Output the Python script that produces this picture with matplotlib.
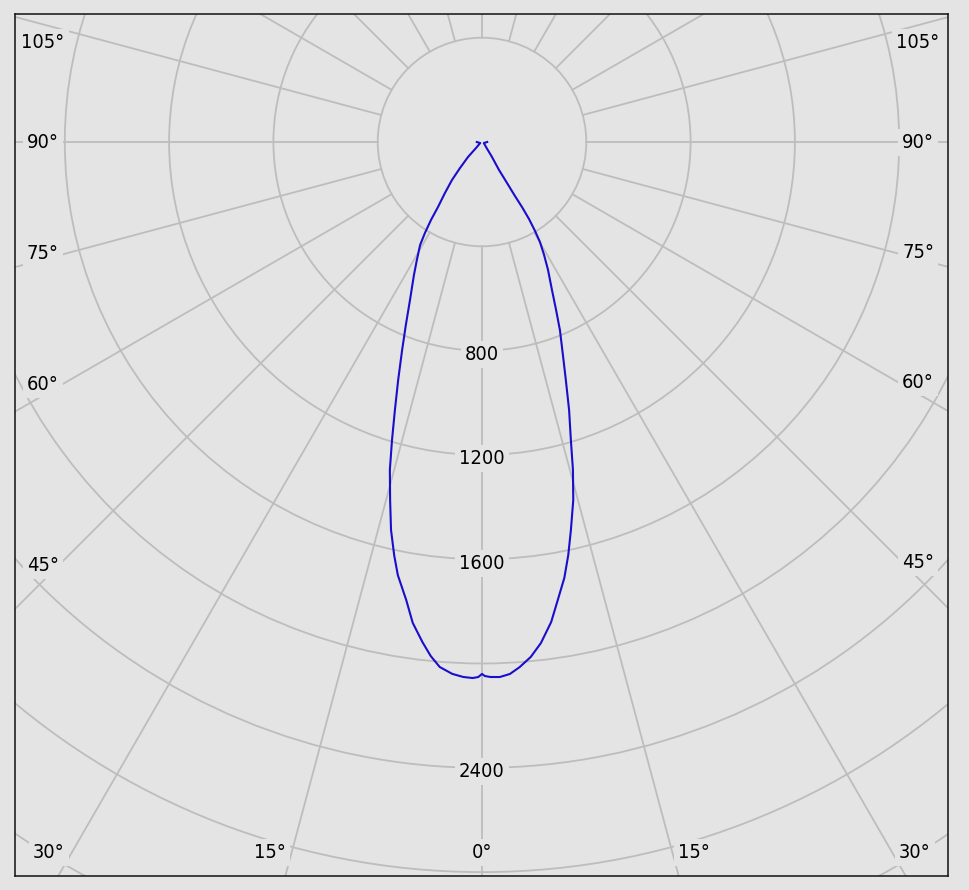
import matplotlib
matplotlib.use("Agg")
import matplotlib.pyplot as plt
import numpy as np
from matplotlib.patches import Circle

# luminous intensity curve (cd), gamma angle in degrees, 0 = straight down
gamma = [-90, -60, -45, -43, -40.2, -38.3, -36, -34.1, -33.2, -32.1, -31, -28.9,
         -27.1, -24.5, -22.6, -21, -19.4, -18, -16.8, -15.7, -14.4, -13.2,
         -12, -11, -9.4, -8.2, -6.8, -5.7, -4.6, -3.2, -2, -1, -0.4,
         0,
         0.3, 0.9, 1.9, 3, 4.1, 5.4, 6.7, 8.2, 9.4, 10.7, 11.8, 12.9,
         14.3, 15.5, 16.6, 18, 19.4, 20.8, 22.5, 23.8, 25.3, 27.3, 28.8,
         30.1, 30.8, 31.4, 31.6, 31.4, 31.4, 31.3, 33.7, 38.7, 60, 90]
intensity = [20, 8, 32, 79, 131, 186, 242, 301, 357, 412, 461, 517,
             573, 666, 760, 855, 968, 1081, 1194, 1306, 1417, 1528,
             1620, 1692, 1780, 1863, 1931, 1981, 2020, 2043, 2053, 2056, 2052,
             2040,
             2048, 2052, 2053, 2043, 2019, 1984, 1935, 1860, 1780, 1701, 1618, 1527,
             1417, 1305, 1193, 1081, 968, 874, 781, 704, 628, 552, 494,
             443, 397, 346, 293, 243, 184, 126, 69, 25, 8, 20]

ring_values = [400, 800, 1200, 1600, 2000, 2400, 2800, 3200]
ring_labels = [800, 1200, 1600, 2400]
side_angles = [45, 60, 75, 90, 105]
bottom_angles = [0, 15, 30]

bg = "#e4e4e4"
grid_c = "#bdbdbd"
W, H = 969, 890
scale = 104.3 / 400          # pixels per cd
cx, cy = 482, 142            # pole position in pixels (from top left)

fig = plt.figure(figsize=(W / 100, H / 100), dpi=100, facecolor=bg)
ax = fig.add_axes([15 / W, 14 / H, 933 / W, 862 / H], facecolor=bg)
ax.set_xlim((15 - cx) / scale, (948 - cx) / scale)
ax.set_ylim(-(876 - cy) / scale, (cy - 14) / scale)
ax.set_xticks([])
ax.set_yticks([])
for sp in ax.spines.values():
    sp.set_color("#111111")
    sp.set_linewidth(1.1)

# grid: circles and radial lines starting at the first ring
for r in ring_values:
    ax.add_patch(Circle((0, 0), r, fill=False, ec=grid_c, lw=1.3, zorder=1))
for a in np.radians(np.arange(0, 360, 15)):
    ax.plot([400 * np.sin(a), 5000 * np.sin(a)], [-400 * np.cos(a), -5000 * np.cos(a)],
            color=grid_c, lw=1.3, zorder=1)

g = np.radians(gamma)
I = np.array(intensity)
ax.plot(I * np.sin(g), -I * np.cos(g), color="#1a0dcc", lw=1.5, zorder=3,
        solid_joinstyle="round")

box = dict(boxstyle="square,pad=0.2", fc=bg, ec="none")
font = dict(family="DejaVu Sans", stretch="condensed", size=14.4)

for v in ring_labels:
    ax.annotate(str(v), xy=(0, -v), xytext=(0, -4), textcoords="offset pixels",
                ha="center", va="center", bbox=box, zorder=5, **font)

def put(dx, dy, txt):
    ax.text(dx / scale, -dy / scale, txt, ha="center", va="center",
            bbox=box, zorder=5, **font)

for a in side_angles:
    ar = np.radians(a)
    for sgn, dx in ((-1, cx - 43), (1, 918 - cx)):
        dy = dx * np.cos(ar) / np.sin(ar) - 16 * np.cos(ar) / np.cos(np.radians(45))
        dy = max(dy, 42 - cy)
        put(sgn * dx, dy, f"{a}°")

for a in bottom_angles:
    ar = np.radians(a)
    dx = 710 * np.tan(ar) + 22 * np.sin(ar) / np.sin(np.radians(15))
    dx = min(dx, 433)
    sides = (1,) if a == 0 else (-1, 1)
    for sgn in sides:
        put(sgn * dx, 710, f"{a}°")

fig.savefig("out.png", dpi=100, facecolor=bg)
